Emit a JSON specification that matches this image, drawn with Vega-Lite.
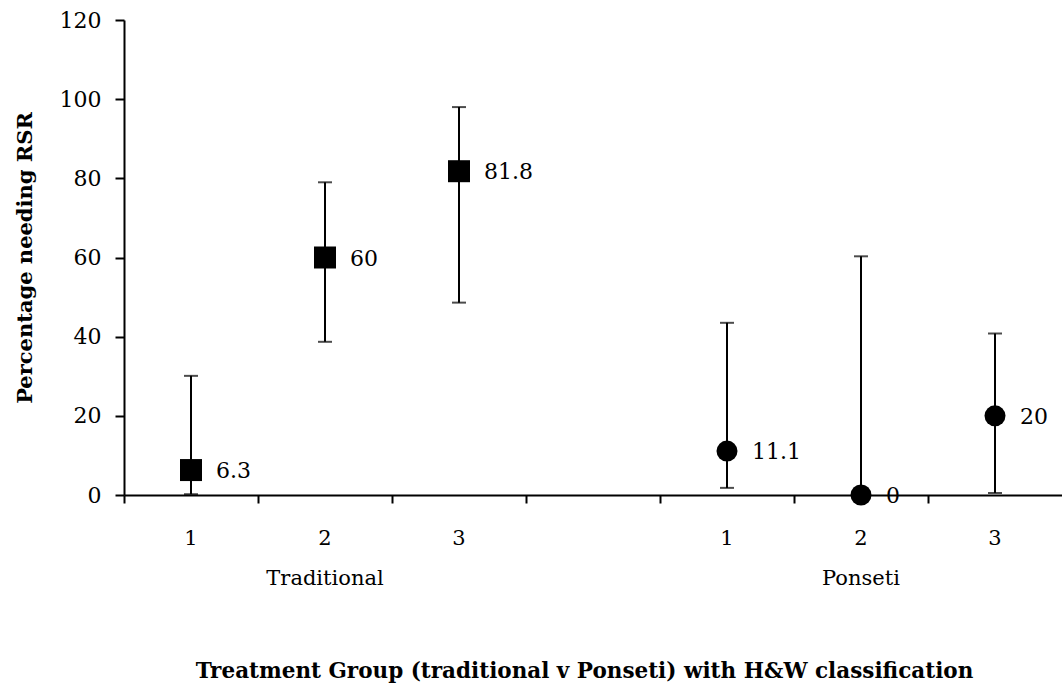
{
  "$schema": "https://vega.github.io/schema/vega-lite/v6.json",
  "width": 938,
  "height": 475,
  "autosize": {"type": "none"},
  "padding": {"left": 124, "top": 20, "right": 0, "bottom": 194},
  "background": "white",
  "config": {
    "view": {"stroke": null},
    "font": "DejaVu Serif",
    "axis": {"labelFont": "DejaVu Serif", "titleFont": "DejaVu Serif", "labelColor": "black", "titleColor": "black", "domainColor": "black", "tickColor": "black", "grid": false, "domainWidth": 2, "tickWidth": 2}
  },
  "data": {
    "values": [
      {"slot": "T1", "group": "Traditional", "value": 6.3, "lo": 0.2, "hi": 30.1, "label": "6.3"},
      {"slot": "T2", "group": "Traditional", "value": 60, "lo": 38.7, "hi": 79.0, "label": "60"},
      {"slot": "T3", "group": "Traditional", "value": 81.8, "lo": 48.6, "hi": 98.0, "label": "81.8"},
      {"slot": "P1", "group": "Ponseti", "value": 11.1, "lo": 1.8, "hi": 43.5, "label": "11.1"},
      {"slot": "P2", "group": "Ponseti", "value": 0, "lo": 0, "hi": 60.3, "label": "0"},
      {"slot": "P3", "group": "Ponseti", "value": 20, "lo": 0.5, "hi": 40.8, "label": "20"}
    ]
  },
  "resolve": {"axis": {"x": "independent"}},
  "layer": [
    {
      "mark": {"type": "rule", "color": "black", "strokeWidth": 2},
      "encoding": {
        "x": {
          "field": "slot", "type": "nominal",
          "scale": {"type": "band", "domain": ["T1", "T2", "T3", "gap", "P1", "P2", "P3"], "paddingInner": 0, "paddingOuter": 0},
          "axis": {
            "orient": "bottom",
            "title": "Treatment Group (traditional v Ponseti) with H&W classification",
            "titleFontSize": 21.5, "titleFontWeight": "bold", "titlePadding": 72, "titleX": 460,
            "labelAngle": 0, "labelFontSize": 21, "labelLineHeight": 40,
            "labelPadding": 32, "ticks": false, "domain": true,
            "labelExpr": "datum.value == 'gap' ? '' : datum.value == 'T2' ? ['2', 'Traditional'] : datum.value == 'P2' ? ['2', 'Ponseti'] : substring(datum.value, 1, 2)"
          }
        },
        "y": {
          "field": "lo", "type": "quantitative",
          "scale": {"domain": [0, 120]},
          "axis": {"title": "Percentage needing RSR", "titleFontSize": 21, "titleFontWeight": "bold", "titlePadding": 24, "labelFontSize": 22, "values": [0, 20, 40, 60, 80, 100, 120], "labelOverlap": false, "tickSize": 9, "labelPadding": 14}
        },
        "y2": {"field": "hi"}
      }
    },
    {
      "mark": {"type": "tick", "color": "black", "thickness": 2, "size": 14},
      "encoding": {
        "x": {
          "field": "slot", "type": "nominal",
          "axis": {"orient": "bottom", "title": null, "labels": false, "domain": false, "ticks": true, "tickSize": 8, "bandPosition": 0}
        },
        "y": {"field": "hi", "type": "quantitative"}
      }
    },
    {
      "mark": {"type": "tick", "color": "black", "thickness": 2, "size": 14},
      "encoding": {
        "x": {"field": "slot", "type": "nominal", "axis": null},
        "y": {"field": "lo", "type": "quantitative"}
      }
    },
    {
      "mark": {"type": "point", "filled": true, "color": "black", "opacity": 1},
      "encoding": {
        "x": {"field": "slot", "type": "nominal", "axis": null},
        "y": {"field": "value", "type": "quantitative"},
        "shape": {"field": "group", "type": "nominal", "scale": {"domain": ["Traditional", "Ponseti"], "range": ["square", "circle"]}, "legend": null},
        "size": {"field": "group", "type": "nominal", "scale": {"domain": ["Traditional", "Ponseti"], "range": [484, 441]}, "legend": null}
      }
    },
    {
      "mark": {"type": "text", "align": "left", "baseline": "middle", "dx": 25, "dy": 1, "fontSize": 22, "font": "DejaVu Serif", "color": "black"},
      "encoding": {
        "x": {"field": "slot", "type": "nominal", "axis": null},
        "y": {"field": "value", "type": "quantitative"},
        "text": {"field": "label"}
      }
    }
  ]
}
